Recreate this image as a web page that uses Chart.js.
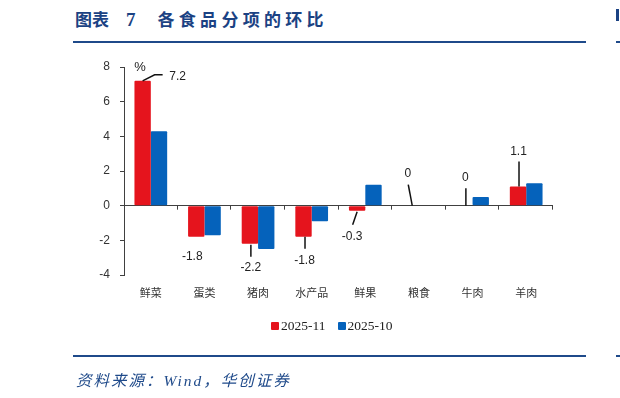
<!DOCTYPE html>
<html lang="zh">
<head>
  <meta charset="UTF-8">
  <title>各食品分项的环比</title>
  <script src="https://cdn.jsdelivr.net/npm/chart.js"></script>
  <style>
    html, body { margin: 0; padding: 0; background: #fff; }
    #wrap { position: relative; width: 620px; height: 398px; overflow: hidden; }
    #chart { position: absolute; left: 0; top: 0; }
    .title { position: absolute; left: 75px; top: 6px; color: #1b4283; font: bold 17px "Noto Sans CJK SC", sans-serif; white-space: nowrap; }
    .title .num { font-family: "Liberation Serif", serif; font-size: 19px; margin-left: 17px; }
    .title .main { margin-left: 22px; letter-spacing: 4.3px; }
    .rule { position: absolute; height: 2px; background: #1f4a8a; }
    .source { position: absolute; left: 76px; top: 368px; color: #1f4a8a; font: italic 15.5px "Liberation Serif", "Noto Sans CJK SC", serif; letter-spacing: 2px; white-space: nowrap; }
    .legend { position: absolute; top: 318px; left: 271px; font: 13.5px "Liberation Serif", serif; color: #222; white-space: nowrap; }
    .legend span.sw { display: inline-block; width: 8px; height: 8px; border-radius: 1px; margin-right: 2px; }
    .legend span.item { margin-right: 12px; }
    .ghost { position: absolute; left: 616px; top: 9px; width: 3px; height: 12px; background: #1b4283; }
  </style>
</head>
<body>
<div id="wrap">
  <div class="title">图表<span class="num">7</span><span class="main">各食品分项的环比</span></div>
  <div class="ghost"></div>
  <div class="rule" style="left:73px; top:41px; width:513px;"></div>
  <div class="rule" style="left:616px; top:41px; width:4px;"></div>
  <canvas id="chart" width="620" height="398"></canvas>
  <div class="legend" id="legend"></div>
  <div class="rule" style="left:73px; top:355px; width:513px;"></div>
  <div class="rule" style="left:616px; top:355px; width:4px;"></div>
  <div class="source">资料来源：Wind，华创证券</div>
</div>

<script>
  // data
  const categories = ["鲜菜", "蛋类", "猪肉", "水产品", "鲜果", "粮食", "牛肉", "羊肉"];
  const seriesNames = ["2025-11", "2025-10"];
  const nov = [7.2, -1.8, -2.2, -1.8, -0.3, 0, 0, 1.1];
  const oct = [4.3, -1.7, -2.5, -0.9, 1.2, 0, 0.5, 1.3];
  const yTicks = [-4, -2, 0, 2, 4, 6, 8];

  const RED = "#e5141d";
  const BLUE = "#0562bb";
  const AXIS = "#404040";

  // label placement for the 2025-11 values: text offset and leader line, relative to bar end
  const labelStyle = [
    { dx: 35, dy: -4, lead: [[0, 0], [12, -6], [20, -6]] },
    { dx: -4, dy: 20, lead: null },
    { dx: 1, dy: 24, lead: [[1, 1], [1, 13]] },
    { dx: 1, dy: 24, lead: [[1.5, 0], [1.5, 12]] },
    { dx: -5, dy: 26, lead: [[0, 1], [-4.5, 14]] },
    { dx: -3, dy: -32, lead: [[1.5, 0], [-2.5, -21]] },
    { dx: 1, dy: -28, lead: [[1.5, 0], [1.5, -17.5]] },
    { dx: 0.5, dy: -35, lead: [[1, 0], [1, -25]] },
  ];

  // legend
  document.getElementById("legend").innerHTML = seriesNames.map((n, i) =>
    '<span class="item"><span class="sw" style="background:' + (i ? BLUE : RED) + '"></span>' + n + '</span>'
  ).join("");

  const extras = {
    id: "extras",
    afterDatasetsDraw(chart) {
      const ctx = chart.ctx;
      const x = chart.scales.x, y = chart.scales.y;
      const y0 = y.getPixelForValue(0);
      ctx.save();
      // tick marks on the zero line between categories
      ctx.strokeStyle = AXIS;
      ctx.lineWidth = 1;
      const step = (x.right - x.left) / categories.length;
      for (let i = 1; i <= categories.length; i++) {
        const px = Math.round(x.left + i * step) - 0.5;
        ctx.beginPath();
        ctx.moveTo(px, y0);
        ctx.lineTo(px, y0 + 4);
        ctx.stroke();
      }
      // unit
      ctx.fillStyle = "#222";
      ctx.font = "13px 'Liberation Sans', sans-serif";
      ctx.textAlign = "center";
      ctx.textBaseline = "middle";
      ctx.fillText("%", 140, y.getPixelForValue(8));
      // value labels with leader lines
      const meta = chart.getDatasetMeta(0);
      ctx.font = "12px 'Liberation Sans', sans-serif";
      ctx.strokeStyle = "#111";
      ctx.lineWidth = 1.5;
      nov.forEach((v, i) => {
        const bar = meta.data[i];
        const ax = bar.x, ay = y.getPixelForValue(v);
        const s = labelStyle[i];
        if (s.lead) {
          ctx.beginPath();
          s.lead.forEach((p, k) => k ? ctx.lineTo(ax + p[0], ay + p[1]) : ctx.moveTo(ax + p[0], ay + p[1]));
          ctx.stroke();
        }
        ctx.fillStyle = "#222";
        ctx.fillText(String(v), ax + s.dx, ay + s.dy);
      });
      ctx.restore();
    }
  };

  new Chart(document.getElementById("chart"), {
    type: "bar",
    data: {
      labels: categories,
      datasets: [
        { label: seriesNames[0], data: nov, backgroundColor: RED, borderRadius: 1, borderSkipped: false },
        { label: seriesNames[1], data: oct, backgroundColor: BLUE, borderRadius: 1, borderSkipped: false },
      ],
    },
    options: {
      responsive: false,
      animation: false,
      devicePixelRatio: 1,
      layout: { padding: { left: 0, right: 67, top: 67, bottom: 0 } },
      datasets: { bar: { categoryPercentage: 0.61, barPercentage: 1 } },
      scales: {
        x: {
          afterFit: (s) => { s.height = 123; },
          grid: { display: false },
          border: { display: false },
          ticks: { color: "#333", padding: 3, font: { family: "'Noto Sans CJK SC', sans-serif", size: 11 } },
        },
        y: {
          min: -4,
          max: 8,
          afterFit: (s) => { s.width = 124; },
          afterBuildTicks: (s) => { s.ticks = yTicks.map(v => ({ value: v })); },
          grid: {
            drawOnChartArea: true,
            color: (c) => c.tick && c.tick.value === 0 ? AXIS : "rgba(0,0,0,0)",
            tickColor: AXIS,
            tickLength: 4,
          },
          border: { display: true, color: AXIS, width: 1 },
          ticks: { color: "#333", padding: 10, font: { family: "'Liberation Sans', sans-serif", size: 12 } },
        },
      },
      plugins: {
        legend: { display: false },
        tooltip: { enabled: false },
      },
    },
    plugins: [extras],
  });
</script>
</body>
</html>
